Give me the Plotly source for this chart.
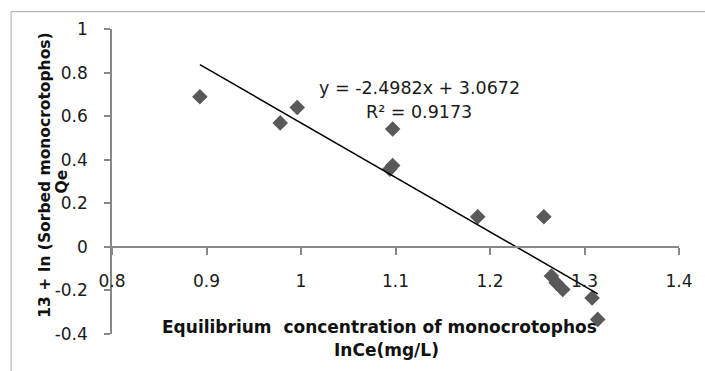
import plotly.graph_objects as go

# Data
ln_ce = [0.893, 0.978, 0.996, 1.097, 1.094, 1.097, 1.187, 1.257, 1.265, 1.270, 1.277, 1.308, 1.314]
ln_qe = [0.689, 0.569, 0.640, 0.541, 0.357, 0.373, 0.138, 0.138, -0.134, -0.165, -0.196, -0.235, -0.333]

slope = -2.4982
intercept = 3.0672
r2 = 0.9173

x_ticks = [0.8, 0.9, 1.0, 1.1, 1.2, 1.3, 1.4]
x_tick_text = ["0.8", "0.9", "1", "1.1", "1.2", "1.3", "1.4"]
y_ticks = [-0.4, -0.2, 0, 0.2, 0.4, 0.6, 0.8, 1.0]
y_tick_text = ["-0.4", "-0.2", "0", "0.2", "0.4", "0.6", "0.8", "1"]

FONT = "DejaVu Sans"
AXIS_GRAY = "#878787"

fig = go.Figure()

fig.add_trace(go.Scatter(
    x=ln_ce, y=ln_qe, mode="markers",
    marker=dict(symbol="diamond", size=12, color="#595959", line=dict(width=0)),
    showlegend=False, cliponaxis=False,
))

x_fit = [min(ln_ce), max(ln_ce)]
y_fit = [slope * v + intercept for v in x_fit]
fig.add_trace(go.Scatter(
    x=x_fit, y=y_fit, mode="lines",
    line=dict(color="black", width=1.5),
    showlegend=False,
))

fig.update_layout(
    width=705, height=371,
    margin=dict(l=112, r=21, t=29, b=37),
    paper_bgcolor="white", plot_bgcolor="white",
    font=dict(family=FONT, size=17, color="#1a1a1a"),
    xaxis=dict(
        range=[0.8, 1.4], tickvals=x_ticks, ticktext=x_tick_text,
        showgrid=False, zeroline=False,
        showline=True, linecolor=AXIS_GRAY, linewidth=1.5,
        ticks="outside", ticklen=7, tickcolor=AXIS_GRAY, tickwidth=1.5,
        anchor="free", position=0.4 / 1.4,
        ticklabelstandoff=12,
        tickfont=dict(family=FONT, size=17, color="#1a1a1a"),
    ),
    yaxis=dict(
        range=[-0.4, 1.0], tickvals=y_ticks, ticktext=y_tick_text,
        showgrid=False, zeroline=False,
        showline=True, linecolor=AXIS_GRAY, linewidth=1.5,
        ticks="outside", ticklen=6, tickcolor=AXIS_GRAY, tickwidth=1.5,
        ticklabelstandoff=13,
        tickfont=dict(family=FONT, size=17, color="#1a1a1a"),
    ),
)

# outer chart border (partially cropped)
fig.add_shape(type="rect", xref="paper", yref="paper",
              x0=-0.178, x1=1.2, y0=-0.3, y1=1.0567,
              line=dict(color="#a6a6a6", width=1), layer="below")

# trendline equation
fig.add_annotation(x=1.125, y=0.727, xref="x", yref="y",
                   text=f"y = {slope}x + {intercept}", showarrow=False,
                   font=dict(family=FONT, size=17.5, color="#1a1a1a"))
fig.add_annotation(x=1.125, y=0.620, xref="x", yref="y",
                   text=f"R² = {r2}", showarrow=False,
                   font=dict(family=FONT, size=17.5, color="#1a1a1a"))

# axis titles
fig.add_annotation(x=(382 - 112) / 572, y=(334 - 339) / 305, xref="paper", yref="paper",
                   text="<b>Equilibrium  concentration of monocrotophos</b>", showarrow=False,
                   font=dict(family=FONT, size=17, color="#111"))
fig.add_annotation(x=(389 - 112) / 572, y=(334 - 362) / 305, xref="paper", yref="paper",
                   text="<b>InCe(mg/L)</b>", showarrow=False,
                   font=dict(family=FONT, size=17, color="#111"))
fig.add_annotation(x=(33 - 112) / 572, y=(334 - 175) / 305, xref="paper", yref="paper",
                   text="<b>13 + In (Sorbed monocrotophos)</b>", showarrow=False, textangle=-90,
                   font=dict(family=FONT, size=15.5, color="#111"))
fig.add_annotation(x=(50 - 112) / 572, y=(334 - 182) / 305, xref="paper", yref="paper",
                   text="<b>Qe</b>", showarrow=False, textangle=-90,
                   font=dict(family=FONT, size=15.5, color="#111"))

fig.write_html("out.html")
